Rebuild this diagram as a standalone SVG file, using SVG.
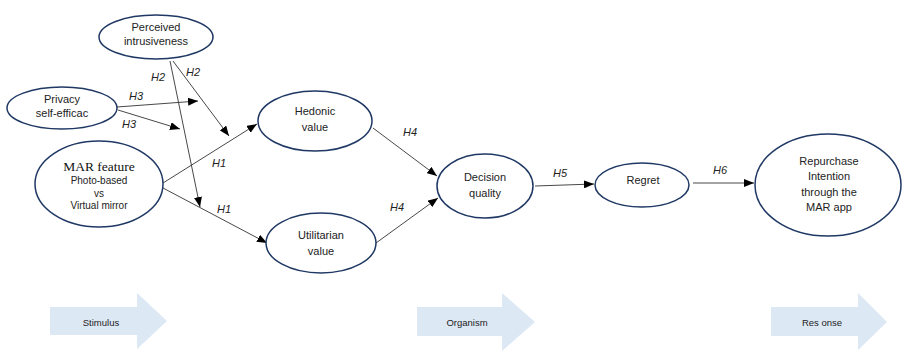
<svg xmlns="http://www.w3.org/2000/svg" width="902" height="353" viewBox="0 0 902 353">
<defs>
<marker id="ah" viewBox="0 0 10 8" refX="10" refY="4" markerWidth="10" markerHeight="8" markerUnits="userSpaceOnUse" orient="auto">
<path d="M0,0 L10,4 L0,8 Z" fill="#000"/>
</marker>
<style>
.node ellipse{fill:#fff;stroke:#1f3864;stroke-width:1.5}
.t{font-family:"Liberation Sans",Arial,sans-serif;font-size:11px;fill:#222;text-anchor:middle;dominant-baseline:middle}
.s{font-family:"Liberation Serif","Times New Roman",serif;font-size:13.5px;fill:#111;text-anchor:middle;dominant-baseline:middle}
.lbl{font-family:"Liberation Sans",Arial,sans-serif;font-size:11px;font-style:italic;fill:#222;text-anchor:middle;dominant-baseline:middle}
.c line{stroke:#333;stroke-width:0.9;marker-end:url(#ah)}
.band path{fill:#dde8f5}
.bt{font-family:"Liberation Sans",Arial,sans-serif;font-size:9.5px;fill:#222;text-anchor:middle;dominant-baseline:middle}
</style>
</defs>
<rect width="902" height="353" fill="#fff"/>

<g id="connectors" class="c">
<line x1="170" y1="61" x2="200" y2="207"/>
<line x1="173" y1="61" x2="229" y2="136"/>
<line x1="117" y1="107" x2="198" y2="101"/>
<line x1="118" y1="110" x2="180" y2="129"/>
<line x1="163" y1="183" x2="257" y2="124"/>
<line x1="163" y1="188" x2="267" y2="243"/>
<line x1="373" y1="128" x2="437" y2="176"/>
<line x1="376" y1="243" x2="438" y2="198"/>
<line x1="535" y1="186" x2="594" y2="184"/>
<line x1="693" y1="183" x2="754" y2="183"/>
</g>

<g id="labels">
<text class="lbl" x="158" y="78">H2</text>
<text class="lbl" x="193" y="73">H2</text>
<text class="lbl" x="136" y="97">H3</text>
<text class="lbl" x="129" y="125">H3</text>
<text class="lbl" x="219" y="164">H1</text>
<text class="lbl" x="224" y="210">H1</text>
<text class="lbl" x="410" y="133">H4</text>
<text class="lbl" x="397" y="208">H4</text>
<text class="lbl" x="560" y="174">H5</text>
<text class="lbl" x="720" y="171">H6</text>
</g>

<g id="perceived-intrusiveness" class="node">
<ellipse cx="156" cy="37" rx="57" ry="22"/>
<text class="t" x="156" y="28">Perceived</text>
<text class="t" x="156" y="42">intrusiveness</text>
</g>
<g id="privacy-self-efficacy" class="node">
<ellipse cx="62" cy="108" rx="55" ry="21"/>
<text class="t" x="62" y="100">Privacy</text>
<text class="t" x="62" y="114">self-efficac</text>
</g>
<g id="mar-feature" class="node">
<ellipse cx="99" cy="184" rx="64" ry="43"/>
<text class="s" x="99" y="168">MAR feature</text>
<text class="t" x="99" y="181" style="font-size:10px">Photo-based</text>
<text class="t" x="99" y="194" style="font-size:10px">vs</text>
<text class="t" x="99" y="206" style="font-size:10px">Virtual mirror</text>
</g>
<g id="hedonic-value" class="node">
<ellipse cx="315" cy="121" rx="57" ry="30"/>
<text class="t" x="315" y="112">Hedonic</text>
<text class="t" x="315" y="128">value</text>
</g>
<g id="utilitarian-value" class="node">
<ellipse cx="321" cy="243" rx="55" ry="30"/>
<text class="t" x="321" y="236">Utilitarian</text>
<text class="t" x="321" y="252">value</text>
</g>
<g id="decision-quality" class="node">
<ellipse cx="485" cy="186" rx="48" ry="32"/>
<text class="t" x="485" y="178">Decision</text>
<text class="t" x="485" y="194">quality</text>
</g>
<g id="regret" class="node">
<ellipse cx="642" cy="185" rx="47" ry="22"/>
<text class="t" x="643" y="181">Regret</text>
</g>
<g id="repurchase-intention" class="node">
<ellipse cx="828" cy="185" rx="73" ry="51"/>
<text class="t" x="829" y="162">Repurchase</text>
<text class="t" x="829" y="177">Intention</text>
<text class="t" x="829" y="193">through the</text>
<text class="t" x="829" y="208">MAR app</text>
</g>

<g id="stages" class="band">
<g id="stimulus">
<path d="M50,307 H137 V293 L167,321 L137,349 V335 H50 Z"/>
<text class="bt" x="101" y="323">Stimulus</text>
</g>
<g id="organism">
<path d="M417,307 H502 V293 L535,322 L502,351 V336 H417 Z"/>
<text class="bt" x="467" y="323">Organism</text>
</g>
<g id="response">
<path d="M771,307 H858 V293 L887,322 L858,350 V336 H771 Z"/>
<text class="bt" x="822" y="323">Res  onse</text>
</g>
</g>
</svg>
